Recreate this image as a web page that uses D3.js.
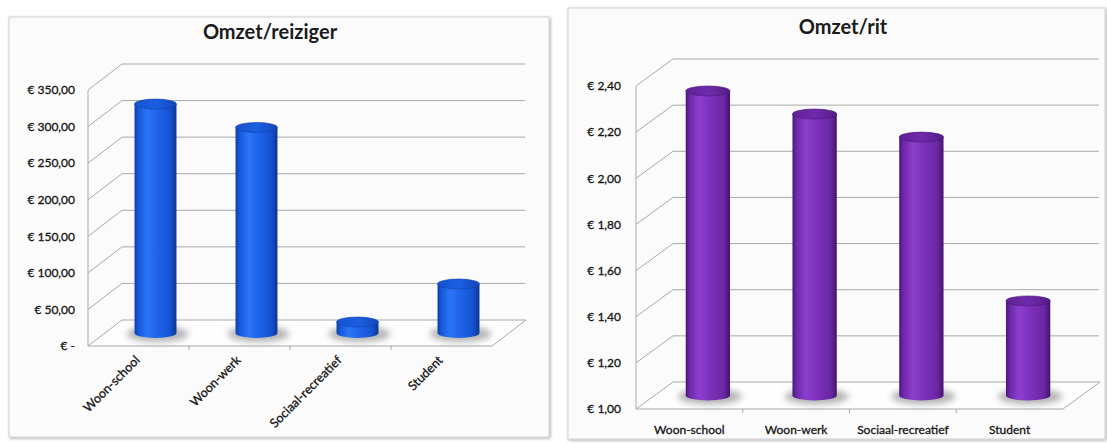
<!DOCTYPE html>
<html>
<head>
<meta charset="utf-8">
<script src="https://cdn.jsdelivr.net/npm/d3@7"></script>
<style>
  html, body { margin: 0; padding: 0; background: #ffffff; }
  svg { display: block; }
  text { font-family: Lato, "Open Sans", sans-serif; }
</style>
</head>
<body>
<svg id="chart" width="1107" height="443"></svg>
<script>
// Categories shared by both charts
const categories = ["Woon-school", "Woon-werk", "Sociaal-recreatief", "Student"];

// Revenue per traveller (EUR)
const omzetPerReiziger = [313, 281, 15, 67];
const reizigerTicks = [0, 50, 100, 150, 200, 250, 300, 350];

// Revenue per trip (EUR)
const omzetPerRit = [2.32, 2.22, 2.12, 1.41];
const ritTicks = [1.00, 1.20, 1.40, 1.60, 1.80, 2.00, 2.20, 2.40];

const euro = d3.formatLocale({
  decimal: ",", thousands: ".", grouping: [3], currency: ["€ ", ""]
});
const fmtEuro = euro.format("$.2f");
const tickFmt = v => (v === 0 ? "€ -" : fmtEuro(v));

const svg = d3.select("#chart");
const defs = svg.append("defs");

// Shadow blur for the cylinder bases
defs.append("filter").attr("id", "baseBlur")
  .attr("x", "-50%").attr("y", "-100%").attr("width", "200%").attr("height", "300%")
  .append("feGaussianBlur").attr("stdDeviation", 3.2);

// Panel drop shadow
const ps = defs.append("filter").attr("id", "panelShadow")
  .attr("x", "-5%").attr("y", "-5%").attr("width", "110%").attr("height", "110%");
ps.append("feGaussianBlur").attr("in", "SourceAlpha").attr("stdDeviation", 1.5).attr("result", "b");
ps.append("feOffset").attr("in", "b").attr("dx", 1).attr("dy", 1).attr("result", "o");
ps.append("feComponentTransfer").attr("in", "o").attr("result", "s")
  .append("feFuncA").attr("type", "linear").attr("slope", 0.35);
const psm = ps.append("feMerge");
psm.append("feMergeNode").attr("in", "s");
psm.append("feMergeNode").attr("in", "SourceGraphic");

function cylGradient(id, stops) {
  const g = defs.append("linearGradient").attr("id", id)
    .attr("x1", "0%").attr("x2", "100%").attr("y1", "0%").attr("y2", "0%");
  stops.forEach(([o, c]) => g.append("stop").attr("offset", o).attr("stop-color", c));
}
cylGradient("blueSide", [["0%", "#0b3ea8"], ["8%", "#1656d8"], ["30%", "#2a74f6"], ["55%", "#1f63ea"], ["85%", "#1552d2"], ["100%", "#0a3590"]]);
cylGradient("blueTop", [["0%", "#1552cc"], ["50%", "#1c5fe2"], ["100%", "#1248b8"]]);
cylGradient("purpleSide", [["0%", "#4a1678"], ["8%", "#6a27a6"], ["30%", "#8c3fcc"], ["55%", "#7d31bb"], ["85%", "#6b28a5"], ["100%", "#441470"]]);
cylGradient("purpleTop", [["0%", "#5f2196"], ["50%", "#6f2bab"], ["100%", "#551c88"]]);

function drawChart(cfg) {
  const g = svg.append("g");

  // Panel frame
  g.append("rect")
    .attr("x", cfg.panel[0]).attr("y", cfg.panel[1])
    .attr("width", cfg.panel[2]).attr("height", cfg.panel[3])
    .attr("fill", "#fbfbfb").attr("stroke", "#d2d2d2").attr("stroke-width", 1)
    .attr("filter", "url(#panelShadow)");

  // Title
  g.append("text")
    .attr("x", cfg.titleX).attr("y", cfg.titleY)
    .attr("text-anchor", "middle")
    .attr("font-size", 20).attr("font-weight", 700).attr("fill", "#1b1b1b")
    .text(cfg.title);

  const x = d3.scaleBand().domain(categories).range([cfg.x0, cfg.x1]);
  const y = d3.scaleLinear().domain(cfg.domain).range([cfg.yBottom, cfg.yTop]);
  const dx = cfg.dx, dy = cfg.dy;
  const [lo, hi] = cfg.domain;

  const gridColor = "#a9a9a9";

  // Floor surface
  g.append("path")
    .attr("d", `M${cfg.x0},${y(lo)} L${cfg.x1},${y(lo)} L${cfg.x1 + dx},${y(lo) + dy} L${cfg.x0 + dx},${y(lo) + dy} Z`)
    .attr("fill", "#fefefe");

  const grid = g.append("g").attr("stroke", gridColor).attr("stroke-width", 1).attr("fill", "none");

  // Back wall gridlines
  grid.selectAll("line.back").data(cfg.ticks).join("line")
    .attr("class", "back")
    .attr("x1", cfg.x0 + dx).attr("x2", cfg.backRight)
    .attr("y1", d => y(d) + dy).attr("y2", d => y(d) + dy);

  // Side wall diagonals
  grid.selectAll("line.side").data(cfg.ticks).join("line")
    .attr("class", "side")
    .attr("x1", cfg.x0).attr("x2", cfg.x0 + dx)
    .attr("y1", d => y(d)).attr("y2", d => y(d) + dy);

  // Front vertical axis edge
  grid.append("line")
    .attr("x1", cfg.x0).attr("x2", cfg.x0)
    .attr("y1", y(lo)).attr("y2", y(hi));

  // Floor front and right edges
  grid.append("path")
    .attr("d", `M${cfg.x0},${y(lo)} L${cfg.x1},${y(lo)} L${cfg.x1 + dx},${y(lo) + dy} L${cfg.backRight},${y(lo) + dy}`);

  // Category tick marks on the floor edge
  grid.selectAll("line.ctick").data(categories.slice(1)).join("line")
    .attr("class", "ctick")
    .attr("x1", d => x(d)).attr("x2", d => x(d))
    .attr("y1", y(lo)).attr("y2", y(lo) + 4);

  // Value axis labels
  const yAxis = d3.axisLeft(y).tickValues(cfg.ticks).tickFormat(cfg.fmt).tickSize(0).tickPadding(cfg.labelPad);
  const ya = g.append("g").attr("transform", `translate(${cfg.x0},0)`).call(yAxis);
  ya.select(".domain").remove();
  ya.selectAll("text")
    .attr("font-family", "Lato, sans-serif").attr("font-size", cfg.yFont)
    .attr("fill", "#141414").attr("stroke", "#141414").attr("stroke-width", 0.3);

  // Cylinders
  const bw = x.bandwidth() * 0.415;
  const ry = 5;
  const bars = g.append("g");
  cfg.values.forEach((v, i) => {
    const c = categories[i];
    const cx = x(c) + x.bandwidth() / 2 + dx / 2;
    const yb = y(lo) + dy / 2;
    const yt = y(v) + dy / 2;
    // soft shadow on the floor
    bars.append("ellipse")
      .attr("cx", cx + 2).attr("cy", yb + 1)
      .attr("rx", bw / 2 + 10).attr("ry", ry + 3)
      .attr("fill", "#6d6d6d").attr("opacity", 0.5)
      .attr("filter", "url(#baseBlur)");
    // body
    bars.append("path")
      .attr("d", `M${cx - bw / 2},${yt} L${cx - bw / 2},${yb} A${bw / 2},${ry} 0 0 0 ${cx + bw / 2},${yb} L${cx + bw / 2},${yt} Z`)
      .attr("fill", `url(#${cfg.side})`);
    // top face
    bars.append("ellipse")
      .attr("cx", cx).attr("cy", yt)
      .attr("rx", bw / 2).attr("ry", ry)
      .attr("fill", `url(#${cfg.top})`)
      .attr("stroke", cfg.rim).attr("stroke-width", 0.6);
  });

  // Category labels
  const xAxis = d3.axisBottom(x).tickSize(0).tickPadding(0);
  const xa = g.append("g").attr("transform", `translate(0,${y(lo)})`).call(xAxis);
  xa.select(".domain").remove();
  const xt = xa.selectAll("text")
    .attr("font-family", "Lato, sans-serif").attr("font-size", cfg.xFont)
    .attr("fill", "#141414").attr("stroke", "#141414").attr("stroke-width", 0.3);
  if (cfg.rotate) {
    xt.attr("text-anchor", "end").attr("dy", null)
      .attr("transform", `translate(${cfg.labelDX},${cfg.labelDY}) rotate(-45)`);
  } else {
    xt.attr("dy", null).attr("y", cfg.labelDY);
  }
}

drawChart({
  title: "Omzet/reiziger", titleX: 270, titleY: 39,
  panel: [9, 17, 540, 420],
  x0: 88, x1: 492, backRight: 525,
  yBottom: 346, yTop: 90, dx: 34, dy: -26,
  domain: [0, 350], ticks: reizigerTicks, values: omzetPerReiziger,
  fmt: tickFmt, labelPad: 13, yFont: 12, xFont: 12.5,
  side: "blueSide", top: "blueTop", rim: "#0e3fa6",
  rotate: true, labelDX: 2, labelDY: 15
});

drawChart({
  title: "Omzet/rit", titleX: 843, titleY: 34,
  panel: [568, 8, 537, 431],
  x0: 636, x1: 1063, backRight: 1099,
  yBottom: 409, yTop: 86, dx: 37, dy: -27,
  domain: [1.0, 2.4], ticks: ritTicks, values: omzetPerRit,
  fmt: fmtEuro, labelPad: 15, yFont: 12, xFont: 12,
  side: "purpleSide", top: "purpleTop", rim: "#4a1676",
  rotate: false, labelDY: 25
});
</script>
</body>
</html>
